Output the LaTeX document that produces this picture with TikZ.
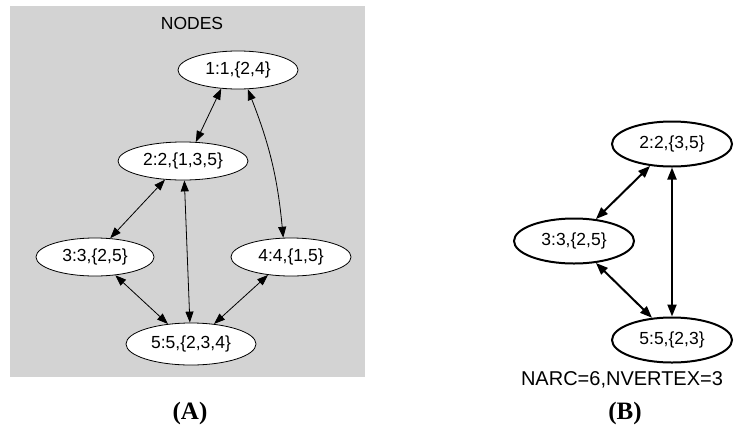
\documentclass[tikz,border=0pt]{standalone}
\usepackage{fontspec}
\setmainfont{Liberation Sans}
\newfontfamily\serifb{Liberation Serif}
\usetikzlibrary{shapes.geometric,arrows.meta}
\definecolor{panelgray}{RGB}{211,211,211}
\tikzset{
  lnode/.style={ellipse,draw=black,fill=white,line width=0.8pt,minimum height=38pt,inner sep=0pt,font=\fontsize{17.5}{20}\selectfont},
  rnode/.style={ellipse,draw=black,fill=white,line width=2pt,minimum width=120pt,minimum height=45pt,inner sep=0pt,font=\fontsize{17.5}{20}\selectfont},
  ledge/.style={line width=0.8pt,{Triangle[length=11pt,width=8pt]}-{Triangle[length=11pt,width=8pt]}},
  redge/.style={line width=2pt,{Triangle[length=12pt,width=9pt]}-{Triangle[length=12pt,width=9pt]}},
  caption/.style={font=\serifb\bfseries\fontsize{25}{28}\selectfont},
  plain/.style={font=\fontsize{17.5}{20}\selectfont}
}
\begin{document}
\begin{tikzpicture}[x=1pt,y=-1pt]
\useasboundingbox (0,0) rectangle (735,442);
\fill[panelgray] (10,6) rectangle (365,377);
\node[plain] (title) at (192,23) {NODES};
\node[lnode,minimum width=120pt] (n1) at (238,70) {1:1,\{2,4\}};
\node[lnode,minimum width=130pt] (n2) at (183,161) {2:2,\{1,3,5\}};
\node[lnode,minimum width=118pt] (n3) at (95,257) {3:3,\{2,5\}};
\node[lnode,minimum width=120pt] (n4) at (291,257) {4:4,\{1,5\}};
\node[lnode,minimum width=130pt,minimum height=42pt] (n5) at (191,344) {5:5,\{2,3,4\}};
\draw[ledge] (n1.228) -- (n2.56);
\draw[ledge] (n1.297) to[bend left=8] (n4.112);
\draw[ledge] (n2.226) -- (n3.51);
\draw[ledge] (n2.274) -- (n5.93);
\draw[ledge] (n3.318) -- (n5.139);
\draw[ledge] (n4.218) -- (n5.41);
\node[rnode] (m2) at (672,144) {2:2,\{3,5\}};
\node[rnode] (m3) at (574,241) {3:3,\{2,5\}};
\node[rnode] (m5) at (672,340) {5:5,\{2,3\}};
\draw[redge] (m2.225) -- (m3.45);
\draw[redge] (m2.270) -- (m5.90);
\draw[redge] (m3.315) -- (m5.132);
\node[plain,font=\fontsize{20}{24}\selectfont] (narc) at (622,380) {NARC=6,NVERTEX=3};
\node[caption] (capA) at (190,413) {(A)};
\node[caption] (capB) at (625,413) {(B)};
\end{tikzpicture}
\end{document}
